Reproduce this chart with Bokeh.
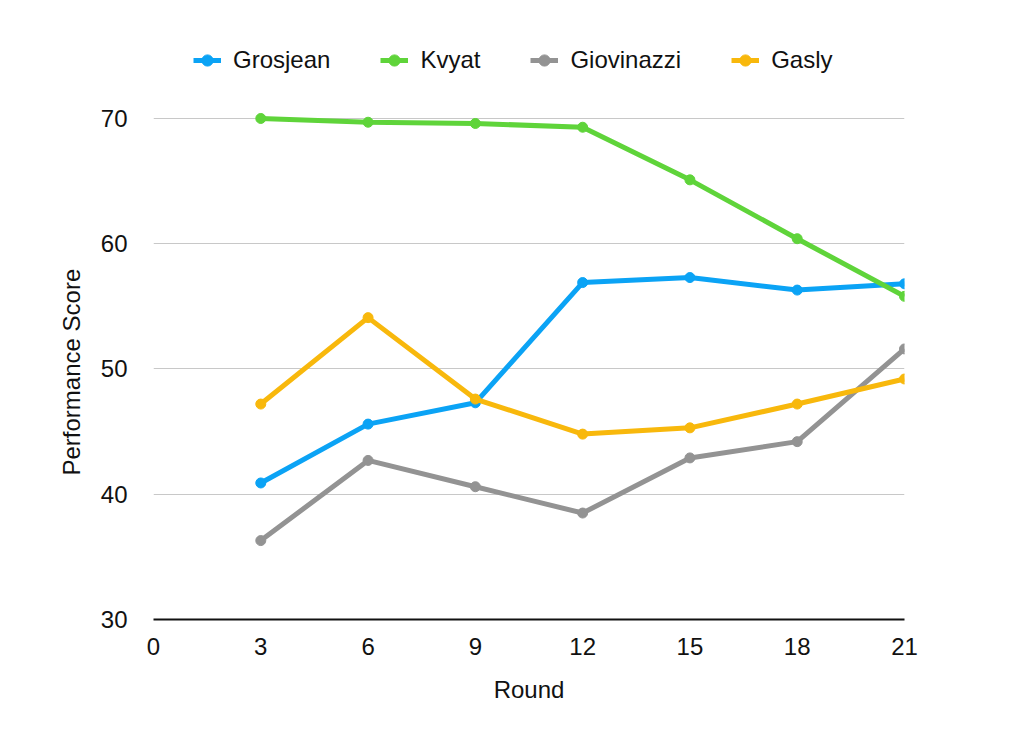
from bokeh.plotting import figure
from bokeh.models import Range1d, FixedTicker, Legend, LegendItem, Title
from bokeh.embed import file_html
from bokeh.resources import INLINE

rounds = [3, 6, 9, 12, 15, 18, 21]
grosjean = [40.9, 45.6, 47.3, 56.9, 57.3, 56.3, 56.8]
kvyat = [70.0, 69.7, 69.6, 69.3, 65.1, 60.4, 55.8]
giovinazzi = [36.3, 42.7, 40.6, 38.5, 42.9, 44.2, 51.6]
gasly = [47.2, 54.1, 47.6, 44.8, 45.3, 47.2, 49.2]
names = ["Grosjean", "Kvyat", "Giovinazzi", "Gasly"]
colors = ["#0ba3f5", "#5fd43a", "#939393", "#f8b80c"]
x_ticks = [0, 3, 6, 9, 12, 15, 18, 21]
y_ticks = [30, 40, 50, 60, 70]

FONT = "Liberation Sans"

p = figure(width=1008, height=719, output_backend="svg", toolbar_location=None,
           x_range=Range1d(0, 21), y_range=Range1d(30, 78.62),
           min_border_left=153, min_border_right=104, min_border_top=10, min_border_bottom=100)
p.outline_line_color = None
p.background_fill_color = "white"
p.xgrid.grid_line_color = None
p.ygrid.grid_line_color = "#c8c8c8"
p.ygrid.grid_line_width = 1

p.xaxis.ticker = FixedTicker(ticks=x_ticks)
p.yaxis.ticker = FixedTicker(ticks=y_ticks)
for ax in (p.xaxis, p.yaxis):
    ax.major_tick_line_color = None
    ax.minor_tick_line_color = None
    ax.major_label_text_font = FONT
    ax.major_label_text_font_size = "24px"
    ax.major_label_text_color = "#111111"
    ax.axis_label_text_font = FONT
    ax.axis_label_text_font_size = "24px"
    ax.axis_label_text_font_style = "normal"
    ax.axis_label_text_color = "#111111"
p.yaxis.axis_line_color = None
p.xaxis.axis_line_color = "#111111"
p.xaxis.axis_line_width = 2
p.xaxis.axis_label = "Round"
p.xaxis.major_label_standoff = 12
p.yaxis.major_label_standoff = 20
p.xaxis.axis_label_standoff = 18

ytitle = Title(text="Performance Score", align="left", offset=144,
               text_font=FONT, text_font_size="24px", text_font_style="normal",
               text_color="#111111", standoff=25)
p.add_layout(ytitle, "left")

items = []
for name, vals, c in zip(names, [grosjean, kvyat, giovinazzi, gasly], colors):
    l = p.line(rounds, vals, line_color=c, line_width=5)
    s = p.scatter(rounds, vals, size=10, fill_color=c, line_color=c)
    items.append(LegendItem(label=name, renderers=[l, s]))

legend = Legend(items=items, orientation="horizontal", location=(40, 545))
legend.label_text_font = FONT
legend.label_text_font_size = "24px"
legend.label_text_color = "#111111"
legend.border_line_color = None
legend.background_fill_alpha = 0
legend.glyph_width = 28
legend.glyph_height = 28
legend.label_standoff = 12
legend.spacing = 50
p.add_layout(legend, "center")

open("out.html", "w").write(file_html(p, INLINE))
